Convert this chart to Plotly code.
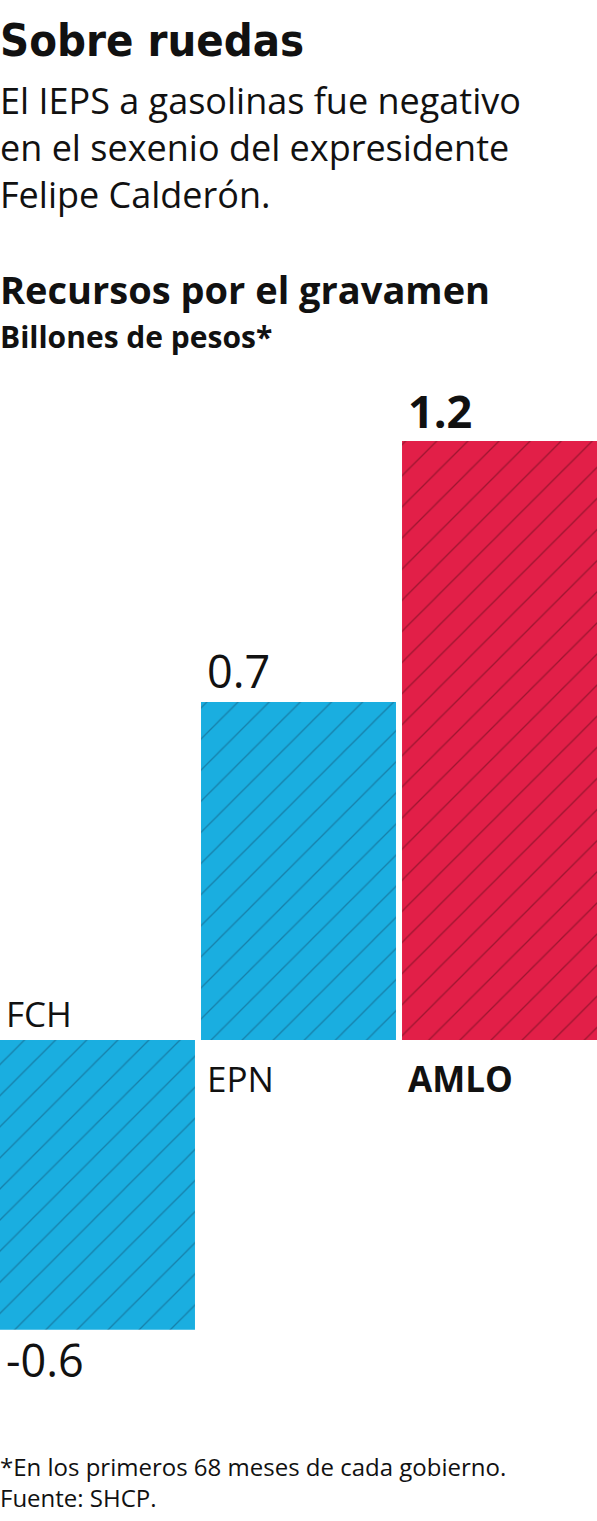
import plotly.graph_objects as go

# data
categories = ["FCH", "EPN", "AMLO"]
values = [-0.6, 0.7, 1.24]
bar_colors = ["#1aaee0", "#1aaee0", "#e21f48"]
line_colors = ["#1680aa", "#1680aa", "#9e1530"]
label_bold = [False, False, True]

W, H = 597, 1521
TOP, BOTTOM = 380, 1400  # plot area in pixels
ZERO = 1040
PX_PER_UNIT = 483


def py(p):
    """pixel row -> paper y"""
    return (BOTTOM - p) / (BOTTOM - TOP)


FONT = "Open Sans"
TITLE_FONT = "DejaVu Sans Condensed, Liberation Sans Narrow, sans-serif"

fig = go.Figure()
for i, v in enumerate(values):
    fig.add_trace(go.Bar(
        x=[i],
        y=[v],
        width=0.97,
        marker=dict(
            color=bar_colors[i],
            line=dict(width=0),
            pattern=dict(shape="/", size=22, solidity=0.06,
                         fgcolor=line_colors[i], fgopacity=1),
        ),
        hoverinfo="skip",
    ))

ann = []
for i, (cat, v, b) in enumerate(zip(categories, values, label_bold)):
    left = i - 0.485
    txt = f"{v:.1f}"
    if b:
        txt = f"<b>{txt}</b>"
    # value label
    ann.append(dict(
        x=left, y=v, xref="x", yref="y", xanchor="left", yanchor="middle",
        yshift=31 if v > 0 else -30, xshift=4,
        text=txt, showarrow=False,
        font=dict(family=FONT, size=45, color="#111"),
    ))
    # category label
    ann.append(dict(
        x=left, y=0, xref="x", yref="y", xanchor="left", yanchor="middle",
        yshift=27 if v < 0 else -38, xshift=4,
        text=f"<b>{cat}</b>" if b else cat, showarrow=False,
        font=dict(family=FONT, size=35, color="#111"),
    ))

texts = [
    ("<b>Sobre ruedas</b>", 40, TITLE_FONT, 45),
    ("El IEPS a gasolinas fue negativo<br>en el sexenio del expresidente"
     "<br>Felipe Calderón.", 148, FONT, 36),
    ("<b>Recursos por el gravamen</b>", 289, FONT, 38),
    ("<b>Billones de pesos*</b>", 337, FONT, 30),
    ("*En los primeros 68 meses de cada gobierno.<br>Fuente: SHCP.",
     1482, FONT, 24),
]
for t, p, fam, size in texts:
    ann.append(dict(
        x=0, y=py(p), xref="paper", yref="paper", xanchor="left",
        yanchor="middle", align="left", showarrow=False, xshift=-2,
        text=t,
        font=dict(family=fam, size=size, color="#111"),
    ))

fig.update_layout(
    width=W, height=H,
    margin=dict(l=0, r=0, t=TOP, b=H - BOTTOM),
    paper_bgcolor="white", plot_bgcolor="white",
    xaxis=dict(range=[-0.485, 2.485], visible=False),
    yaxis=dict(range=[-(BOTTOM - ZERO) / PX_PER_UNIT, (ZERO - TOP) / PX_PER_UNIT],
               visible=False),
    showlegend=False,
    annotations=ann,
)

fig.write_html("out.html", config={"displayModeBar": False},
               post_script="document.body.style.margin='0';")
